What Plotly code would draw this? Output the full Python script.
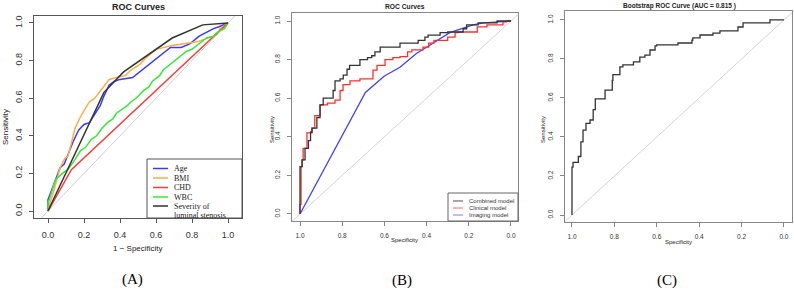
import plotly.graph_objects as go

W, H = 794, 291

# ---------------- Panel A data (x = 1 - Specificity, y = Sensitivity) ----------------
age_x = [0, 0, 0.02, 0.04, 0.067, 0.09, 0.11, 0.14, 0.17, 0.20, 0.23, 0.27, 0.29, 0.31, 0.34, 0.37, 0.40,
         0.47, 0.51, 0.55, 0.62, 0.68, 0.74, 0.79, 0.84, 0.88, 0.92, 0.95, 1]
age_y = [0, 0.06, 0.11, 0.16, 0.23, 0.25, 0.30, 0.37, 0.43, 0.46, 0.47, 0.53, 0.56, 0.61, 0.67, 0.69, 0.70,
         0.71, 0.74, 0.77, 0.82, 0.87, 0.87, 0.89, 0.93, 0.95, 0.97, 0.98, 1]

bmi_x = [0, 0.01, 0.03, 0.05, 0.067, 0.094, 0.11, 0.13, 0.15, 0.17, 0.18, 0.21, 0.23, 0.26, 0.29, 0.32,
         0.34, 0.38, 0.43, 0.46, 0.51, 0.55, 0.60, 0.69, 0.75, 0.83, 0.92, 0.94, 0.955, 1]
bmi_y = [0, 0.04, 0.10, 0.165, 0.23, 0.28, 0.29, 0.36, 0.44, 0.48, 0.50, 0.55, 0.58, 0.60, 0.64, 0.68,
         0.70, 0.71, 0.72, 0.75, 0.78, 0.82, 0.86, 0.88, 0.89, 0.90, 0.93, 0.94, 0.97, 1]

chd_x = [0, 0.13, 1]
chd_y = [0, 0.22, 1]

wbc_x = [0, 0, 0.02, 0.04, 0.08, 0.11, 0.14, 0.18, 0.21, 0.24, 0.27, 0.30, 0.33, 0.36, 0.38, 0.41, 0.44,
         0.46, 0.49, 0.53, 0.56, 0.58, 0.62, 0.64, 0.69, 0.72, 0.77, 0.80, 0.84, 0.88, 0.92, 0.94, 0.98, 1]
wbc_y = [0, 0.04, 0.10, 0.165, 0.20, 0.22, 0.26, 0.32, 0.34, 0.38, 0.40, 0.44, 0.47, 0.49, 0.52, 0.54, 0.56,
         0.58, 0.60, 0.64, 0.66, 0.69, 0.72, 0.75, 0.79, 0.81, 0.85, 0.86, 0.89, 0.92, 0.93, 0.95, 0.97, 1]

sev_x = [0, 0.31, 0.42, 0.51, 0.69, 0.86, 1]
sev_y = [0, 0.63, 0.74, 0.80, 0.92, 0.99, 1]

# ---------------- Panel B data (Specificity, Sensitivity) ----------------
comb_spec = [1.0, 1.0, 0.99, 0.976, 0.96, 0.95, 0.943, 0.92, 0.905, 0.89, 0.872, 0.843, 0.834, 0.81, 0.795,
             0.777, 0.765, 0.754, 0.716, 0.68, 0.66, 0.645, 0.62, 0.607, 0.526, 0.44, 0.408, 0.393, 0.336,
             0.30, 0.227, 0.21, 0.156, 0.066, 0.05, 0.0]
comb_sens = [0.0, 0.15, 0.245, 0.28, 0.34, 0.38, 0.425, 0.445, 0.50, 0.565, 0.60, 0.60, 0.64, 0.69, 0.70,
             0.72, 0.75, 0.77, 0.77, 0.80, 0.81, 0.82, 0.84, 0.865, 0.865, 0.885, 0.90, 0.917, 0.927,
             0.94, 0.943, 0.96, 0.98, 0.99, 1.0, 1.0]

clin_spec = [1.0, 0.995, 0.99, 0.985, 0.967, 0.967, 0.943, 0.93, 0.905, 0.87, 0.834, 0.81, 0.796, 0.763,
             0.716, 0.70, 0.654, 0.635, 0.597, 0.56, 0.526, 0.49, 0.47, 0.417, 0.39, 0.365, 0.30, 0.265,
             0.25, 0.16, 0.114, 0.038, 0.02, 0.0]
clin_sens = [0.0, 0.05, 0.245, 0.28, 0.34, 0.41, 0.42, 0.445, 0.51, 0.565, 0.575, 0.59, 0.64, 0.67,
             0.69, 0.70, 0.70, 0.745, 0.77, 0.80, 0.81, 0.815, 0.84, 0.85, 0.865, 0.885, 0.90, 0.917,
             0.94, 0.943, 0.97, 0.98, 0.995, 1.0]

img_spec = [1.0, 0.69, 0.60, 0.526, 0.45, 0.37, 0.29, 0.18, 0.13, 0.0]
img_sens = [0.0, 0.63, 0.715, 0.76, 0.83, 0.886, 0.94, 0.98, 0.99, 1.0]

# ---------------- Panel C data (bootstrap) ----------------
boot_spec = [1.0, 1.0, 0.995, 0.97, 0.958, 0.948, 0.934, 0.915, 0.90, 0.89, 0.877, 0.844, 0.835, 0.81,
             0.807, 0.774, 0.76, 0.74, 0.71, 0.68, 0.656, 0.632, 0.608, 0.60, 0.50, 0.434, 0.43, 0.396,
             0.335, 0.302, 0.217, 0.193, 0.175, 0.066, 0.052, 0.0]
boot_sens = [0.0, 0.145, 0.245, 0.27, 0.30, 0.375, 0.435, 0.47, 0.487, 0.54, 0.595, 0.595, 0.64, 0.64,
             0.69, 0.72, 0.76, 0.77, 0.77, 0.785, 0.81, 0.82, 0.846, 0.867, 0.872, 0.882, 0.897, 0.908,
             0.923, 0.933, 0.944, 0.964, 0.985, 0.985, 1.0, 1.0]

ticks = [0.0, 0.2, 0.4, 0.6, 0.8, 1.0]
tick_text = ["0.0", "0.2", "0.4", "0.6", "0.8", "1.0"]

legend_a = ["Age", "BMI", "CHD", "WBC", "Severity of", "luminal stenosis"]
colors_a = ["#3a3aff", "#ffad45", "#ff3b3b", "#3ae83a", "#333333"]
legend_b = ["Combined model", "Clinical model", "Imaging model"]
colors_b = ["#333333", "#ff3030", "#4040ff"]
colors_b_leg = ["#8a8a8a", "#ff9a9a", "#a8a8ff"]


def px(x):
    return x / W


def py(y):
    return 1 - y / H


SANS = "Liberation Sans, Arial, sans-serif"
SERIF = "Liberation Serif, Times New Roman, serif"

fig = go.Figure()

# Panel A
series_a = [(age_x, age_y), (bmi_x, bmi_y), (chd_x, chd_y), (wbc_x, wbc_y), (sev_x, sev_y)]
fig.add_trace(go.Scatter(x=[-0.2, 1.2], y=[-0.2, 1.2], mode="lines",
                         line=dict(color="#cfcfcf", width=1), xaxis="x", yaxis="y", showlegend=False))
for (xs, ys), name, c in zip(series_a, legend_a, colors_a):
    fig.add_trace(go.Scatter(x=xs, y=ys, mode="lines", name=name, line=dict(color=c, width=1.5),
                             xaxis="x", yaxis="y", showlegend=False))

# Panel B
fig.add_trace(go.Scatter(x=[1.2, -0.2], y=[-0.2, 1.2], mode="lines",
                         line=dict(color="#d5d5d5", width=1), xaxis="x2", yaxis="y2", showlegend=False))
fig.add_trace(go.Scatter(x=img_spec, y=img_sens, mode="lines", name=legend_b[2],
                         line=dict(color=colors_b[2], width=1.3), xaxis="x2", yaxis="y2", showlegend=False))
fig.add_trace(go.Scatter(x=clin_spec, y=clin_sens, mode="lines", name=legend_b[1], line_shape="vh",
                         line=dict(color=colors_b[1], width=1.3), xaxis="x2", yaxis="y2", showlegend=False))
fig.add_trace(go.Scatter(x=comb_spec, y=comb_sens, mode="lines", name=legend_b[0], line_shape="vh",
                         line=dict(color=colors_b[0], width=1.3), xaxis="x2", yaxis="y2", showlegend=False))

# Panel C
fig.add_trace(go.Scatter(x=[1.2, -0.2], y=[-0.2, 1.2], mode="lines",
                         line=dict(color="#d5d5d5", width=1), xaxis="x3", yaxis="y3", showlegend=False))
fig.add_trace(go.Scatter(x=boot_spec, y=boot_sens, mode="lines", line_shape="vh",
                         line=dict(color="#333333", width=1.3), xaxis="x3", yaxis="y3", showlegend=False))


def axis(domain, rng, anchor, size, color, standoff, angle=0):
    return dict(domain=domain, range=rng, anchor=anchor, tickvals=ticks, ticktext=tick_text,
                showgrid=False, zeroline=False, showline=True, mirror=True, linecolor=color,
                linewidth=1, ticks="outside", ticklen=4, tickcolor=color, tickwidth=1,
                tickfont=dict(family=SANS, size=size, color="#333"), tickangle=angle,
                ticklabelstandoff=standoff)


fig.update_layout(
    width=W, height=H, margin=dict(l=0, r=0, t=0, b=0),
    paper_bgcolor="white", plot_bgcolor="white", showlegend=False,
    xaxis=axis([px(34), px(242)], [-0.0778, 1.0778], "y", 9, "#555", 4),
    yaxis=axis([py(218), py(16)], [-0.0372, 1.0372], "x", 9, "#555", 3, -90),
    xaxis2=axis([px(292), px(518)], [1.0379, -0.0332], "y2", 6.5, "#888", 4),
    yaxis2=axis([py(221), py(13)], [-0.0363, 1.0415], "x2", 6.5, "#888", 4, -90),
    xaxis3=axis([px(565), px(792)], [1.033, -0.038], "y3", 6.5, "#888", 4),
    yaxis3=axis([py(222), py(11)], [-0.0359, 1.046], "x3", 6.5, "#888", 4, -90),
)

ann = []


def text(x, y, t, size, family=SANS, bold=False, angle=0, xanchor="center", color="#222"):
    ann.append(dict(x=px(x), y=py(y), xref="paper", yref="paper", text=("<b>%s</b>" % t) if bold else t,
                    showarrow=False, xanchor=xanchor, yanchor="middle", textangle=angle, borderpad=0,
                    font=dict(family=family, size=size, color=color), align="left"))


# titles and labels
text(138, 7, "ROC Curves", 9, bold=True)
text(5, 127, "Sensitivity", 8, angle=-90)
text(138, 248, "1 − Specificity", 8)
text(132, 279, "(A)", 15, family=SERIF, color="#000")

text(405, 6, "ROC Curves", 6.7, bold=True)
text(272, 130, "Sensitivity", 6, angle=-90)
text(404, 240, "Specificity", 6)
text(402, 280, "(B)", 15, family=SERIF, color="#000")

text(679, 6, "Bootstrap ROC Curve (AUC = 0.815 )", 6.5, bold=True)
text(543, 130, "Sensitivity", 6, angle=-90)
text(678, 242, "Specificity", 6)
text(667, 280, "(C)", 15, family=SERIF, color="#000")

shapes = []
# legend A
shapes.append(dict(type="rect", xref="paper", yref="paper", x0=px(147), x1=px(242), y0=py(218), y1=py(159),
                   line=dict(color="#555", width=1), fillcolor="white", layer="above"))
ya = [168.5, 178, 187.5, 197, 206]
for c, yy in zip(colors_a, ya):
    shapes.append(dict(type="line", xref="paper", yref="paper", x0=px(153), x1=px(168), y0=py(yy), y1=py(yy),
                       line=dict(color=c, width=1.5), layer="above"))
for name, yy in zip(legend_a, ya + [215]):
    text(173, yy, name, 8, family=SERIF, xanchor="left", color="#222")

# legend B
shapes.append(dict(type="rect", xref="paper", yref="paper", x0=px(448), x1=px(518), y0=py(221), y1=py(193),
                   line=dict(color="#666", width=1), fillcolor="white", layer="above"))
yb = [201, 208, 215]
for name, c, yy in zip(legend_b, colors_b_leg, yb):
    shapes.append(dict(type="line", xref="paper", yref="paper", x0=px(453), x1=px(463), y0=py(yy), y1=py(yy),
                       line=dict(color=c, width=1.5), layer="above"))
    text(468, yy, name, 6, xanchor="left", color="#333")

fig.update_layout(annotations=ann, shapes=shapes)
fig.write_html("out.html", config={"displayModeBar": False},
               post_script="document.body.style.margin='0';document.body.style.overflow='hidden';")
